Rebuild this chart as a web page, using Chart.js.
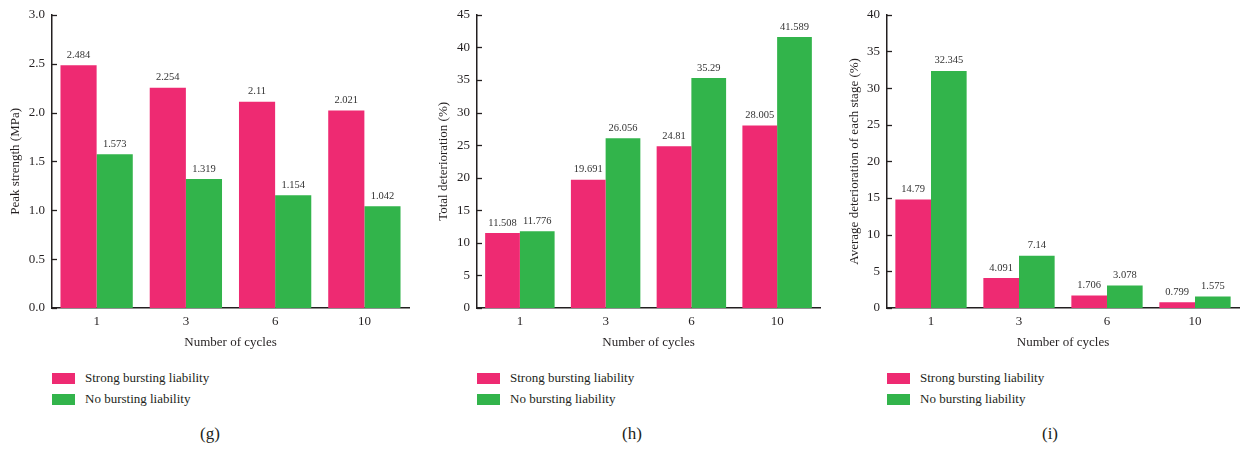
<!DOCTYPE html>
<html>
<head>
<meta charset="utf-8">
<script src="https://cdn.jsdelivr.net/npm/chart.js@4.4.1/dist/chart.umd.min.js"></script>
<style>
  html, body { margin: 0; padding: 0; background: #fff; }
  body { width: 1240px; height: 451px; position: relative; overflow: hidden; font-family: "Liberation Serif", "DejaVu Serif", serif; color: #231f20; }
  .wrap { position: absolute; top: 0; height: 350px; }
  .legend { position: absolute; font-size: 13px; }
  .legend .item { position: absolute; white-space: nowrap; height: 12px; }
  .legend .sw { position: absolute; left: 0; top: 0; width: 23px; height: 11px; }
  .legend .tx { position: absolute; left: 33px; top: -3px; line-height: 16px; }
  .cap { position: absolute; top: 424px; font-size: 17px; width: 40px; text-align: center; }
</style>
</head>
<body>
<div class="wrap" id="wg" style="left:0;width:415px"><canvas id="cg"></canvas></div>
<div class="wrap" id="wh" style="left:420px;width:405px"><canvas id="ch"></canvas></div>
<div class="wrap" id="wi" style="left:830px;width:410px"><canvas id="ci"></canvas></div>
<div class="legend" id="lg" style="left:52px;top:373px"></div>
<div class="legend" id="lh" style="left:477px;top:373px"></div>
<div class="legend" id="li" style="left:887px;top:373px"></div>
<div class="cap" style="left:190px">(g)</div>
<div class="cap" style="left:612px">(h)</div>
<div class="cap" style="left:1030px">(i)</div>
<script>
const categories = ["1", "3", "6", "10"];
const seriesNames = ["Strong bursting liability", "No bursting liability"];
const seriesColors = ["#ee2a72", "#32b44b"];

const peakStrong = [2.484, 2.254, 2.11, 2.021];
const peakNone = [1.573, 1.319, 1.154, 1.042];

const totalStrong = [11.508, 19.691, 24.81, 28.005];
const totalNone = [11.776, 26.056, 35.29, 41.589];

const avgStrong = [14.79, 4.091, 1.706, 0.799];
const avgNone = [32.345, 7.14, 3.078, 1.575];

const xTitle = "Number of cycles";
const yTitles = ["Peak strength (MPa)", "Total deterioration (%)", "Average deterioration of each stage (%)"];

const FONT = "'Liberation Serif', 'DejaVu Serif', serif";
const INK = "#231f20";

const labelPlugin = {
  id: 'valueLabels',
  afterDatasetsDraw(chart) {
    const ctx = chart.ctx;
    ctx.save();
    ctx.font = "10.5px " + FONT;
    ctx.fillStyle = "#333";
    ctx.textAlign = "center";
    ctx.textBaseline = "bottom";
    chart.data.datasets.forEach((ds, i) => {
      const meta = chart.getDatasetMeta(i);
      meta.data.forEach((bar, j) => {
        ctx.fillText(String(ds.data[j]), bar.x, bar.y - 5);
      });
    });
    ctx.restore();
  }
};

const tickPlugin = {
  id: 'innerTicks',
  afterDraw(chart) {
    const ctx = chart.ctx;
    const y = chart.scales.y;
    ctx.save();
    ctx.strokeStyle = INK;
    ctx.lineWidth = 1.3;
    y.ticks.forEach(t => {
      const py = Math.round(y.getPixelForValue(t.value)) + 0.5;
      ctx.beginPath();
      ctx.moveTo(y.right, py);
      ctx.lineTo(y.right + 5, py);
      ctx.stroke();
    });
    ctx.restore();
  }
};

function makeChart(id, strong, none, max, step, decimals, yTitle, yAxisWidth, titlePad, padRight) {
  new Chart(document.getElementById(id), {
    type: 'bar',
    data: {
      labels: categories,
      datasets: [
        { label: seriesNames[0], data: strong, backgroundColor: seriesColors[0], borderWidth: 0 },
        { label: seriesNames[1], data: none, backgroundColor: seriesColors[1], borderWidth: 0 }
      ]
    },
    options: {
      responsive: true,
      maintainAspectRatio: false,
      animation: false,
      devicePixelRatio: 1,
      layout: { padding: { top: 10, right: padRight, left: 0, bottom: 0 } },
      datasets: { bar: { categoryPercentage: 0.81, barPercentage: 1.0 } },
      plugins: { legend: { display: false }, tooltip: { enabled: false } },
      scales: {
        x: {
          grid: { display: false, drawTicks: false },
          border: { display: true, color: INK, width: 1.5 },
          ticks: { color: INK, font: { family: FONT, size: 13 }, padding: 6 },
          title: { display: true, text: xTitle, color: INK, font: { family: FONT, size: 13 }, padding: { top: 0, bottom: 0 } },
          afterFit(s) { s.height = 42; }
        },
        y: {
          min: 0, max: max,
          grid: { display: false, drawTicks: false },
          border: { display: true, color: INK, width: 1.5 },
          ticks: { stepSize: step, color: INK, font: { family: FONT, size: 13 }, padding: 7,
                   callback: v => Number(v).toFixed(decimals) },
          title: { display: true, text: yTitle, color: INK, font: { family: FONT, size: 13 }, padding: { top: titlePad, bottom: 0 } },
          afterFit(s) { s.width = yAxisWidth; }
        }
      }
    },
    plugins: [labelPlugin, tickPlugin]
  });
}

makeChart('cg', peakStrong, peakNone, 3.0, 0.5, 1, yTitles[0], 52, 8, 6);
makeChart('ch', totalStrong, totalNone, 45, 5, 0, yTitles[1], 57, 16, 5);
makeChart('ci', avgStrong, avgNone, 40, 5, 0, yTitles[2], 57, 17, 1);

function makeLegend(id) {
  const el = document.getElementById(id);
  seriesNames.forEach((n, i) => {
    const it = document.createElement('div');
    it.className = 'item';
    it.style.top = (i * 21) + 'px';
    it.innerHTML = '<span class="sw" style="background:' + seriesColors[i] + '"></span><span class="tx"></span>';
    it.querySelector('.tx').textContent = n;
    el.appendChild(it);
  });
}
makeLegend('lg'); makeLegend('lh'); makeLegend('li');
</script>
</body>
</html>
